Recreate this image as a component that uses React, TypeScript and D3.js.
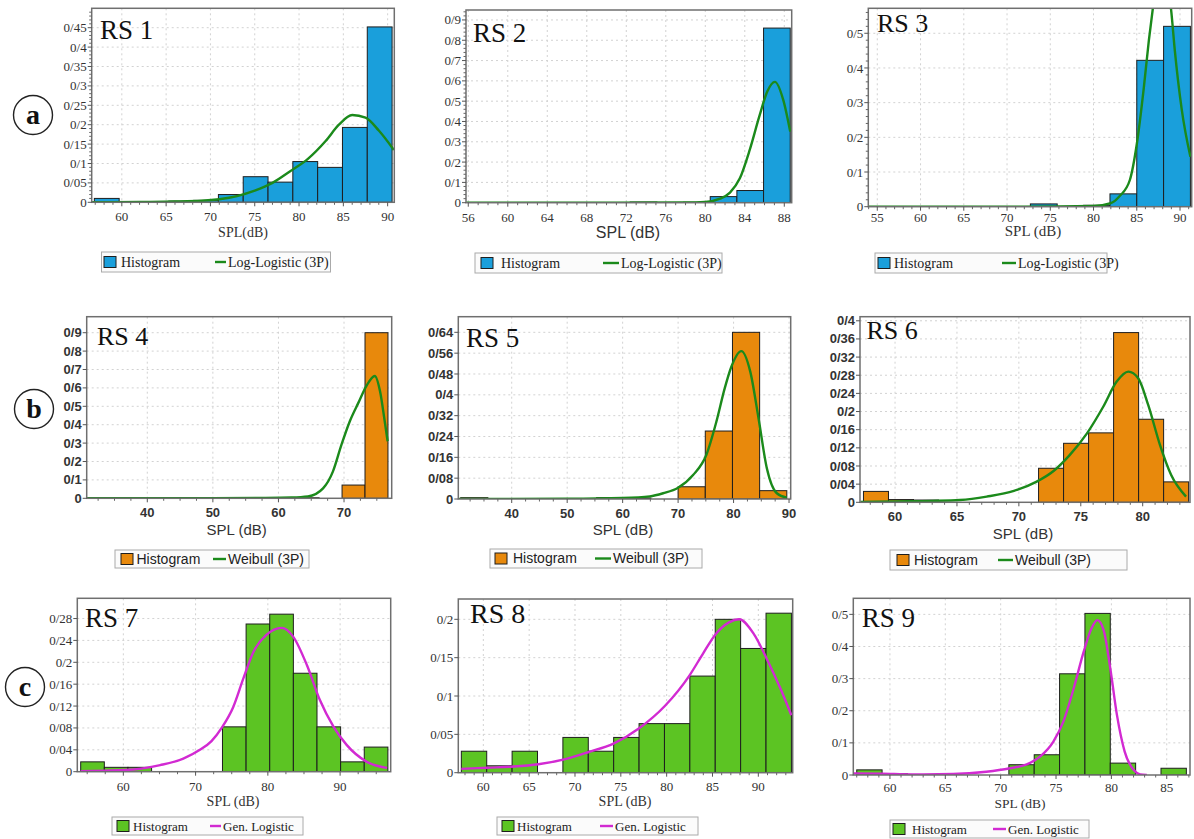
import React from 'react';
import * as d3 from 'd3';

// ---------------- DATA ----------------
// RS 1 (Log-Logistic 3P)
const rs1Edges = [56.9, 59.7, 62.5, 65.3, 68.1, 70.9, 73.7, 76.5, 79.3, 82.1, 84.9, 87.7, 90.5];
const rs1Heights = [0.01, 0, 0, 0.003, 0.005, 0.02, 0.066, 0.052, 0.105, 0.09, 0.193, 0.452];
const rs1CurveX = [56.6, 62, 66, 69, 71, 73, 75, 77, 79, 81, 83, 84.5, 86, 87.5, 89, 90.7];
const rs1CurveY = [0, 0.001, 0.002, 0.004, 0.008, 0.016, 0.03, 0.05, 0.08, 0.112, 0.158, 0.2, 0.225, 0.218, 0.185, 0.135];
const rs1XTicks = [60, 65, 70, 75, 80, 85, 90];
const rs1YTicks = [0, 0.05, 0.1, 0.15, 0.2, 0.25, 0.3, 0.35, 0.4, 0.45];
const rs1YLabels = ['0', '0/05', '0/1', '0/15', '0/2', '0/25', '0/3', '0/35', '0/4', '0/45'];

// RS 2 (Log-Logistic 3P)
const rs2Edges = [72.4, 75.1, 77.8, 80.5, 83.2, 85.9, 88.6];
const rs2Heights = [0.003, 0, 0.002, 0.03, 0.06, 0.86];
const rs2CurveX = [55.8, 70, 78, 80, 81.5, 82.5, 83.5, 84.5, 85.5, 86.3, 87.05, 87.9, 88.6];
const rs2CurveY = [0, 0, 0.001, 0.004, 0.02, 0.05, 0.12, 0.26, 0.43, 0.55, 0.595, 0.505, 0.35];
const rs2XTicks = [56, 60, 64, 68, 72, 76, 80, 84, 88];
const rs2YTicks = [0, 0.1, 0.2, 0.3, 0.4, 0.5, 0.6, 0.7, 0.8, 0.9];
const rs2YLabels = ['0', '0/1', '0/2', '0/3', '0/4', '0/5', '0/6', '0/7', '0/8', '0/9'];

// RS 3 (Log-Logistic 3P)
const rs3Edges = [72.7, 75.8, 78.85, 81.9, 85.0, 88.1, 91.2];
const rs3Heights = [0.008, 0, 0.004, 0.037, 0.422, 0.52];
const rs3CurveX = [54, 72, 80, 82, 83, 84.2, 85, 85.8, 86.4, 86.9, 87.5, 88, 88.5, 89, 89.4, 90.2, 91.2];
const rs3CurveY = [0, 0, 0.002, 0.01, 0.03, 0.077, 0.18, 0.34, 0.48, 0.58, 0.68, 0.7, 0.66, 0.56, 0.45, 0.28, 0.144];
const rs3XTicks = [55, 60, 65, 70, 75, 80, 85, 90];
const rs3YTicks = [0, 0.1, 0.2, 0.3, 0.4, 0.5];
const rs3YLabels = ['0', '0/1', '0/2', '0/3', '0/4', '0/5'];

// RS 4 (Weibull 3P)
const rs4Edges = [55.7, 59.2, 62.7, 66.2, 69.7, 73.2, 76.7];
const rs4Heights = [0.004, 0.004, 0.003, 0, 0.072, 0.9];
const rs4CurveX = [30.8, 50, 58, 62, 64.5, 66.8, 68.3, 69.6, 70.9, 72.2, 73.4, 74.7, 75.5, 76.2, 76.65];
const rs4CurveY = [0.001, 0.001, 0.002, 0.004, 0.01, 0.054, 0.145, 0.29, 0.42, 0.52, 0.61, 0.665, 0.58, 0.42, 0.31];
const rs4XTicks = [40, 50, 60, 70];
const rs4YTicks = [0, 0.1, 0.2, 0.3, 0.4, 0.5, 0.6, 0.7, 0.8, 0.9];
const rs4YLabels = ['0', '0/1', '0/2', '0/3', '0/4', '0/5', '0/6', '0/7', '0/8', '0/9'];

// RS 5 (Weibull 3P)
const rs5Edges = [30.8, 35.7, 40.6, 45.5, 50.4, 55.3, 60.2, 65.1, 70.0, 74.9, 79.8, 84.7, 89.6];
const rs5Heights = [0.005, 0, 0, 0, 0, 0.005, 0.004, 0, 0.047, 0.261, 0.64, 0.032];
const rs5CurveX = [30.4, 50, 60, 64.9, 67.3, 70, 72.7, 75.1, 76.9, 78.4, 79.6, 81.4, 83, 84.5, 86, 87.8, 89.6];
const rs5CurveY = [0, 0.001, 0.004, 0.01, 0.022, 0.043, 0.092, 0.17, 0.297, 0.425, 0.508, 0.568, 0.49, 0.31, 0.118, 0.022, 0.005];
const rs5XTicks = [40, 50, 60, 70, 80, 90];
const rs5YTicks = [0, 0.08, 0.16, 0.24, 0.32, 0.4, 0.48, 0.56, 0.64];
const rs5YLabels = ['0', '0/08', '0/16', '0/24', '0/32', '0/4', '0/48', '0/56', '0/64'];

// RS 6 (Weibull 3P)
const rs6Edges = [57.45, 59.47, 61.49, 63.51, 65.53, 67.55, 69.57, 71.59, 73.61, 75.63, 77.65, 79.67, 81.69, 83.71];
const rs6Heights = [0.024, 0.006, 0.005, 0, 0, 0, 0, 0.075, 0.13, 0.153, 0.374, 0.183, 0.045];
const rs6CurveX = [57.2, 60, 63, 65.25, 67.4, 69.6, 71.4, 72.8, 74.1, 75.5, 76.8, 77.9, 78.84, 79.65, 80.45, 81.4, 82.3, 83.5];
const rs6CurveY = [0.001, 0.002, 0.003, 0.005, 0.0125, 0.025, 0.045, 0.069, 0.104, 0.152, 0.21, 0.266, 0.288, 0.273, 0.214, 0.126, 0.06, 0.0125];
const rs6XTicks = [60, 65, 70, 75, 80];
const rs6YTicks = [0, 0.04, 0.08, 0.12, 0.16, 0.2, 0.24, 0.28, 0.32, 0.36, 0.4];
const rs6YLabels = ['0', '0/04', '0/08', '0/12', '0/16', '0/2', '0/24', '0/28', '0/32', '0/36', '0/4'];

// RS 7 (Gen. Logistic)
const rs7Edges = [54.1, 57.37, 60.64, 63.91, 67.18, 70.45, 73.72, 76.99, 80.26, 83.53, 86.8, 90.07, 93.34, 96.61];
const rs7Heights = [0.018, 0.008, 0.008, 0, 0, 0, 0.082, 0.27, 0.288, 0.18, 0.082, 0.018, 0.045];
const rs7CurveX = [54.1, 57.5, 61.4, 65.1, 68.3, 70.6, 72.2, 73.7, 75.2, 76.6, 78, 79.8, 81.9, 83.5, 85.4, 87.2, 89.1, 90.9, 93.7, 96.5];
const rs7CurveY = [0.001, 0.002, 0.004, 0.012, 0.024, 0.04, 0.056, 0.082, 0.118, 0.17, 0.219, 0.25, 0.263, 0.247, 0.195, 0.131, 0.082, 0.049, 0.018, 0.007];
const rs7XTicks = [60, 70, 80, 90];
const rs7YTicks = [0, 0.04, 0.08, 0.12, 0.16, 0.2, 0.24, 0.28];
const rs7YLabels = ['0', '0/04', '0/08', '0/12', '0/16', '0/2', '0/24', '0/28'];

// RS 8 (Gen. Logistic)
const rs8Edges = [57.6, 60.37, 63.14, 65.91, 68.68, 71.45, 74.22, 76.99, 79.76, 82.53, 85.3, 88.07, 90.84, 93.61];
const rs8Heights = [0.028, 0.009, 0.028, 0, 0.046, 0.028, 0.046, 0.064, 0.064, 0.126, 0.2, 0.162, 0.208];
const rs8CurveX = [57.6, 60.4, 63.3, 66, 68.7, 71.5, 74.2, 77, 79.8, 82.5, 84, 85.3, 86.8, 87.9, 89.5, 90.9, 92.4, 93.6];
const rs8CurveY = [0.005, 0.0065, 0.008, 0.011, 0.017, 0.027, 0.038, 0.058, 0.087, 0.127, 0.156, 0.18, 0.196, 0.2, 0.181, 0.149, 0.11, 0.075];
const rs8XTicks = [60, 65, 70, 75, 80, 85, 90];
const rs8YTicks = [0, 0.05, 0.1, 0.15, 0.2];
const rs8YLabels = ['0', '0/05', '0/1', '0/15', '0/2'];

// RS 9 (Gen. Logistic)
const rs9Edges = [57.0, 59.29, 61.58, 63.87, 66.16, 68.45, 70.74, 73.03, 75.32, 77.61, 79.9, 82.19, 84.48, 86.77];
const rs9Heights = [0.016, 0.004, 0, 0, 0, 0, 0.032, 0.063, 0.315, 0.503, 0.037, 0, 0.021];
const rs9CurveX = [56.7, 59.3, 62, 65.7, 68.7, 70.84, 72.35, 73.55, 74.76, 75.66, 76.6, 77.5, 78.2, 78.73, 79.3, 79.9, 80.5, 81.2, 82, 82.6, 83.2];
const rs9CurveY = [0.005, 0.004, 0.002, 0.003, 0.01, 0.021, 0.033, 0.057, 0.104, 0.166, 0.27, 0.384, 0.456, 0.482, 0.451, 0.332, 0.187, 0.073, 0.016, 0.002, 0];
const rs9XTicks = [60, 65, 70, 75, 80, 85];
const rs9YTicks = [0, 0.1, 0.2, 0.3, 0.4, 0.5];
const rs9YLabels = ['0', '0/1', '0/2', '0/3', '0/4', '0/5'];

const rowLabels = ['a', 'b', 'c'];

// ---------------- STYLE / LAYOUT ----------------
const SERIF = '"Liberation Serif", "Times New Roman", serif';
const SANS = '"Liberation Sans", Arial, sans-serif';
const BLUE = '#1a9fdb';
const ORANGE = '#e8890c';
const GREEN = '#5cc423';
const CURVE_GREEN = '#1b8a1b';
const MAGENTA = '#d22ad2';

type Panel = {
  id: string; title: string;
  edges: number[]; heights: number[]; cx: number[]; cy: number[];
  xTicks: number[]; yTicks: number[]; yLabels: string[];
  xDomain: [number, number]; yMax: number;
  frame: { l: number; t: number; r: number; b: number };
  xMinor: number; yMinor: number | null;
  bar: string; curve: string; curveName: string;
  tickFont: string; tickSize: number; tickWeight?: number; tickDy: number;
  xLabel: string; xLabelFont: string; xLabelSize: number; xLabelX: number; xLabelY: number;
  titleX: number; titleY: number; titleSize: number;
  legend: { x: number; y: number; w: number; h: number; sw: number; tx: number; lx: number; ltx: number; font: string; size: number };
};

const panels: Panel[] = [
  {
    id: 'rs1', title: 'RS 1', edges: rs1Edges, heights: rs1Heights, cx: rs1CurveX, cy: rs1CurveY,
    xTicks: rs1XTicks, yTicks: rs1YTicks, yLabels: rs1YLabels, xDomain: [56.6, 90.75], yMax: 0.5,
    frame: { l: 91.7, t: 8.3, r: 394.3, b: 202.3 }, xMinor: 1, yMinor: 0.01,
    bar: BLUE, curve: CURVE_GREEN, curveName: 'Log-Logistic (3P)',
    tickFont: SERIF, tickSize: 13, tickDy: 18.5, xLabel: 'SPL(dB)', xLabelFont: SERIF, xLabelSize: 14, xLabelX: 243, xLabelY: 237,
    titleX: 100, titleY: 39, titleSize: 27,
    legend: { x: 101.5, y: 252, w: 229, h: 20, sw: 104, tx: 121, lx: 215, ltx: 228, font: SERIF, size: 14 },
  },
  {
    id: 'rs2', title: 'RS 2', edges: rs2Edges, heights: rs2Heights, cx: rs2CurveX, cy: rs2CurveY,
    xTicks: rs2XTicks, yTicks: rs2YTicks, yLabels: rs2YLabels, xDomain: [55.77, 88.75], yMax: 0.949,
    frame: { l: 466, t: 10, r: 791.7, b: 202.7 }, xMinor: 1, yMinor: 0.02,
    bar: BLUE, curve: CURVE_GREEN, curveName: 'Log-Logistic (3P)',
    tickFont: SERIF, tickSize: 13, tickDy: 19, xLabel: 'SPL (dB)', xLabelFont: SANS, xLabelSize: 16, xLabelX: 628, xLabelY: 238,
    titleX: 473, titleY: 41.7, titleSize: 27,
    legend: { x: 475, y: 253, w: 247, h: 20, sw: 481, tx: 501, lx: 603, ltx: 621, font: SERIF, size: 14 },
  },
  {
    id: 'rs3', title: 'RS 3', edges: rs3Edges, heights: rs3Heights, cx: rs3CurveX, cy: rs3CurveY,
    xTicks: rs3XTicks, yTicks: rs3YTicks, yLabels: rs3YLabels, xDomain: [53.96, 91.35], yMax: 0.572,
    frame: { l: 868.3, t: 8.3, r: 1191.7, b: 206.7 }, xMinor: 1, yMinor: 0.02,
    bar: BLUE, curve: CURVE_GREEN, curveName: 'Log-Logistic (3P)',
    tickFont: SERIF, tickSize: 13, tickDy: 15.5, xLabel: 'SPL (dB)', xLabelFont: SERIF, xLabelSize: 15, xLabelX: 1033, xLabelY: 236,
    titleX: 877, titleY: 31.7, titleSize: 26,
    legend: { x: 875, y: 253, w: 232, h: 20, sw: 878, tx: 894, lx: 1002, ltx: 1018, font: SERIF, size: 14 },
  },
  {
    id: 'rs4', title: 'RS 4', edges: rs4Edges, heights: rs4Heights, cx: rs4CurveX, cy: rs4CurveY,
    xTicks: rs4XTicks, yTicks: rs4YTicks, yLabels: rs4YLabels, xDomain: [30.76, 77.27], yMax: 0.987,
    frame: { l: 86.7, t: 316.7, r: 391.7, b: 498.3 }, xMinor: 2.5, yMinor: null,
    bar: ORANGE, curve: CURVE_GREEN, curveName: 'Weibull (3P)',
    tickFont: SANS, tickSize: 13, tickWeight: 600, tickDy: 19, xLabel: 'SPL (dB)', xLabelFont: SANS, xLabelSize: 15, xLabelX: 236.7, xLabelY: 535,
    titleX: 97, titleY: 345, titleSize: 26,
    legend: { x: 115, y: 550, w: 194, h: 18, sw: 121, tx: 136.5, lx: 213, ltx: 228, font: SANS, size: 14 },
  },
  {
    id: 'rs5', title: 'RS 5', edges: rs5Edges, heights: rs5Heights, cx: rs5CurveX, cy: rs5CurveY,
    xTicks: rs5XTicks, yTicks: rs5YTicks, yLabels: rs5YLabels, xDomain: [30.37, 90.3], yMax: 0.7,
    frame: { l: 458.3, t: 316.7, r: 790.7, b: 499 }, xMinor: 2.5, yMinor: null,
    bar: ORANGE, curve: CURVE_GREEN, curveName: 'Weibull (3P)',
    tickFont: SANS, tickSize: 13, tickWeight: 600, tickDy: 18.5, xLabel: 'SPL (dB)', xLabelFont: SANS, xLabelSize: 15, xLabelX: 623, xLabelY: 535,
    titleX: 466, titleY: 347, titleSize: 27,
    legend: { x: 490, y: 549, w: 212, h: 19, sw: 495, tx: 513, lx: 595, ltx: 613, font: SANS, size: 14 },
  },
  {
    id: 'rs6', title: 'RS 6', edges: rs6Edges, heights: rs6Heights, cx: rs6CurveX, cy: rs6CurveY,
    xTicks: rs6XTicks, yTicks: rs6YTicks, yLabels: rs6YLabels, xDomain: [57.17, 83.82], yMax: 0.409,
    frame: { l: 860, t: 316.7, r: 1190, b: 502.3 }, xMinor: 1, yMinor: null,
    bar: ORANGE, curve: CURVE_GREEN, curveName: 'Weibull (3P)',
    tickFont: SANS, tickSize: 13, tickWeight: 600, tickDy: 18.2, xLabel: 'SPL (dB)', xLabelFont: SANS, xLabelSize: 15, xLabelX: 1023, xLabelY: 538.5,
    titleX: 866.5, titleY: 339, titleSize: 26,
    legend: { x: 890, y: 550, w: 237, h: 20, sw: 897, tx: 914, lx: 998, ltx: 1015, font: SANS, size: 14 },
  },
  {
    id: 'rs7', title: 'RS 7', edges: rs7Edges, heights: rs7Heights, cx: rs7CurveX, cy: rs7CurveY,
    xTicks: rs7XTicks, yTicks: rs7YTicks, yLabels: rs7YLabels, xDomain: [53.63, 97.0], yMax: 0.317,
    frame: { l: 77.3, t: 598.3, r: 390.7, b: 771.7 }, xMinor: 2.5, yMinor: null,
    bar: GREEN, curve: MAGENTA, curveName: 'Gen. Logistic',
    tickFont: SERIF, tickSize: 13, tickDy: 19, xLabel: 'SPL (dB)', xLabelFont: SERIF, xLabelSize: 14, xLabelX: 233, xLabelY: 806,
    titleX: 85, titleY: 626.7, titleSize: 27,
    legend: { x: 112, y: 817, w: 191, h: 18, sw: 117, tx: 133, lx: 210, ltx: 223, font: SERIF, size: 13 },
  },
  {
    id: 'rs8', title: 'RS 8', edges: rs8Edges, heights: rs8Heights, cx: rs8CurveX, cy: rs8CurveY,
    xTicks: rs8XTicks, yTicks: rs8YTicks, yLabels: rs8YLabels, xDomain: [57.27, 93.75], yMax: 0.2265,
    frame: { l: 458.3, t: 599, r: 792.7, b: 772.7 }, xMinor: 1, yMinor: null,
    bar: GREEN, curve: MAGENTA, curveName: 'Gen. Logistic',
    tickFont: SERIF, tickSize: 13, tickDy: 18, xLabel: 'SPL (dB)', xLabelFont: SERIF, xLabelSize: 14, xLabelX: 625, xLabelY: 806,
    titleX: 470, titleY: 622.7, titleSize: 28,
    legend: { x: 497, y: 817, w: 201, h: 18, sw: 502, tx: 517, lx: 600, ltx: 615, font: SERIF, size: 13 },
  },
  {
    id: 'rs9', title: 'RS 9', edges: rs9Edges, heights: rs9Heights, cx: rs9CurveX, cy: rs9CurveY,
    xTicks: rs9XTicks, yTicks: rs9YTicks, yLabels: rs9YLabels, xDomain: [56.69, 87.1], yMax: 0.55,
    frame: { l: 853.3, t: 598.3, r: 1190, b: 775 }, xMinor: 1, yMinor: null,
    bar: GREEN, curve: MAGENTA, curveName: 'Gen. Logistic',
    tickFont: SERIF, tickSize: 13, tickDy: 16.5, xLabel: 'SPL (dB)', xLabelFont: SERIF, xLabelSize: 13.5, xLabelX: 1020, xLabelY: 808,
    titleX: 861.7, titleY: 626.7, titleSize: 27,
    legend: { x: 890, y: 820, w: 199, h: 18, sw: 893, tx: 912, lx: 993, ltx: 1008, font: SERIF, size: 13 },
  },
];

const circles = [
  { label: rowLabels[0], x: 33, y: 115 },
  { label: rowLabels[1], x: 34, y: 409 },
  { label: rowLabels[2], x: 25, y: 687 },
];

function PanelView({ p }: { p: Panel }) {
  const { l, t, r, b } = p.frame;
  const x = d3.scaleLinear().domain(p.xDomain).range([l, r]);
  const y = d3.scaleLinear().domain([0, p.yMax]).range([b, t]);
  const bins = p.heights.map((h, i) => ({ x0: p.edges[i], x1: p.edges[i + 1], h }));
  const pts: [number, number][] = p.cx.map((v, i) => [v, p.cy[i]]);
  const line = d3.line<[number, number]>().x(d => x(d[0])).y(d => y(d[1])).curve(d3.curveMonotoneX);
  const xMinorTicks = d3.range(Math.ceil(p.xDomain[0] / p.xMinor) * p.xMinor, p.xDomain[1], p.xMinor)
    .filter(v => !p.xTicks.some(tk => Math.abs(tk - v) < 1e-6));
  const yMinorTicks = p.yMinor
    ? d3.range(0, p.yMax, p.yMinor).filter(v => !p.yTicks.some(tk => Math.abs(tk - v) < 1e-6))
    : [];
  const clipId = `clip-${p.id}`;
  const lg = p.legend;
  return (
    <g>
      <defs>
        <clipPath id={clipId}>
          <rect x={l} y={t} width={r - l} height={b - t} />
        </clipPath>
      </defs>
      <rect x={l} y={t} width={r - l} height={b - t} fill="#fff" />
      {/* grid */}
      {p.xTicks.map(v => (
        <line key={'gx' + v} x1={x(v)} x2={x(v)} y1={t} y2={b} stroke="#d2d2d2" strokeWidth={1} strokeDasharray="2,3" />
      ))}
      {p.yTicks.filter(v => v > 0).map(v => (
        <line key={'gy' + v} x1={l} x2={r} y1={y(v)} y2={y(v)} stroke="#d2d2d2" strokeWidth={1} strokeDasharray="2,3" />
      ))}
      {/* bars */}
      <g clipPath={`url(#${clipId})`}>
        {bins.filter(d => d.h > 0).map((d, i) => (
          <rect key={'b' + i} x={x(d.x0)} y={y(d.h)} width={x(d.x1) - x(d.x0)} height={Math.max(0.6, y(0) - y(d.h))}
            fill={p.bar} stroke="#1e1e1e" strokeWidth={1} />
        ))}
        <path d={line(pts) || ''} fill="none" stroke={p.curve} strokeWidth={2.4} />
      </g>
      {/* frame */}
      <rect x={l} y={t} width={r - l} height={b - t} fill="none" stroke="#6f6f6f" strokeWidth={1.5} />
      {/* x ticks */}
      {p.xTicks.map(v => (
        <g key={'xt' + v}>
          <line x1={x(v)} x2={x(v)} y1={b} y2={b + 4} stroke="#555" strokeWidth={1} />
          <text x={x(v)} y={b + p.tickDy} textAnchor="middle" fontFamily={p.tickFont} fontSize={p.tickSize}
            fontWeight={p.tickWeight || 400} fill="#333">{v}</text>
        </g>
      ))}
      {xMinorTicks.map(v => (
        <line key={'xm' + v} x1={x(v)} x2={x(v)} y1={b} y2={b + 2.5} stroke="#666" strokeWidth={1} />
      ))}
      {/* y ticks */}
      {p.yTicks.map((v, i) => (
        <g key={'yt' + v}>
          <line x1={l - 4} x2={l} y1={y(v)} y2={y(v)} stroke="#555" strokeWidth={1} />
          <text x={l - 5} y={y(v)} dy="0.35em" textAnchor="end" fontFamily={p.tickFont} fontSize={p.tickSize}
            fontWeight={p.tickWeight || 400} fill="#333">{p.yLabels[i]}</text>
        </g>
      ))}
      {yMinorTicks.map(v => (
        <line key={'ym' + v} x1={l - 2.5} x2={l} y1={y(v)} y2={y(v)} stroke="#666" strokeWidth={1} />
      ))}
      {/* title */}
      <text x={p.titleX} y={p.titleY} fontFamily={SERIF} fontSize={p.titleSize} fill="#111">{p.title}</text>
      {/* x label */}
      <text x={p.xLabelX} y={p.xLabelY} textAnchor="middle" fontFamily={p.xLabelFont} fontSize={p.xLabelSize} fill="#333">{p.xLabel}</text>
      {/* legend */}
      <rect x={lg.x} y={lg.y} width={lg.w} height={lg.h} fill="#fbfbfb" stroke="#aaa" strokeWidth={1} />
      <rect x={lg.sw} y={lg.y + lg.h / 2 - 5.5} width={12} height={11} fill={p.bar} stroke="#1e1e1e" strokeWidth={1} />
      <text x={lg.tx} y={lg.y + lg.h / 2} dy="0.35em" fontFamily={lg.font} fontSize={lg.size} fill="#222">Histogram</text>
      <line x1={lg.lx} x2={lg.ltx - 2} y1={lg.y + lg.h / 2} y2={lg.y + lg.h / 2} stroke={p.curve} strokeWidth={2.4} />
      <text x={lg.ltx} y={lg.y + lg.h / 2} dy="0.35em" fontFamily={lg.font} fontSize={lg.size} fill="#222">{p.curveName}</text>
    </g>
  );
}

export default function App() {
  return (
    <div style={{ position: 'absolute', left: 0, top: 0, width: 1194, height: 839, background: '#fff' }}>
      <svg width={1194} height={839} style={{ display: 'block' }}>
        <rect x={0} y={0} width={1194} height={839} fill="#fff" />
        {panels.map(p => <PanelView key={p.id} p={p} />)}
        {circles.map(c => (
          <g key={c.label}>
            <circle cx={c.x} cy={c.y} r={19.5} fill="#fff" stroke="#222" strokeWidth={1.4} />
            <text x={c.x} y={c.y} dy="0.33em" textAnchor="middle" fontFamily={SERIF} fontWeight={700} fontSize={28} fill="#111">{c.label}</text>
          </g>
        ))}
      </svg>
    </div>
  );
}
